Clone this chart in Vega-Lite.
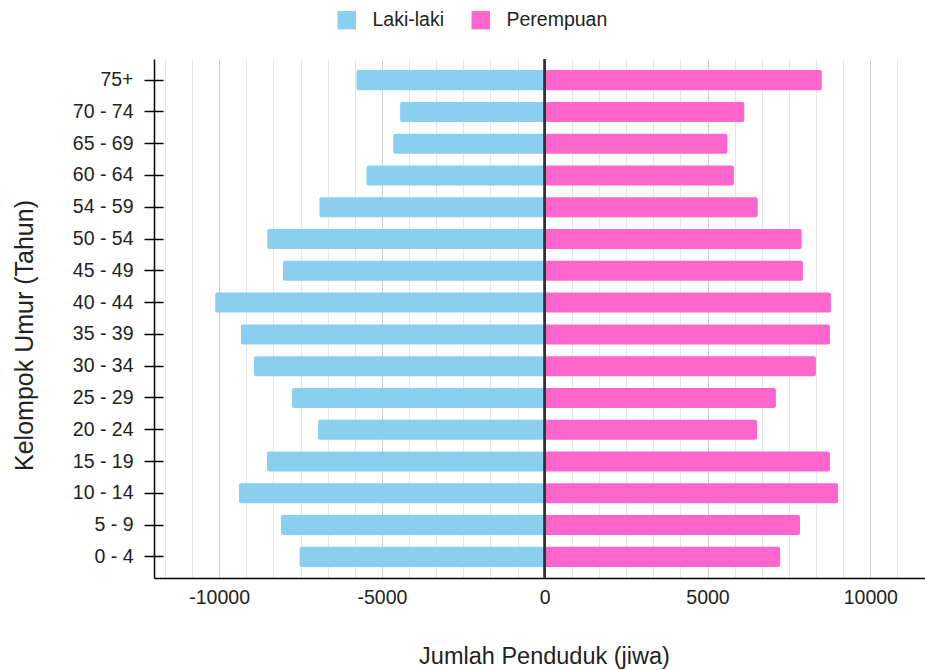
{
  "$schema": "https://vega.github.io/schema/vega-lite/v6.json",
  "width": 771,
  "height": 519,
  "autosize": {"type": "none"},
  "padding": {"left": 154, "top": 59, "right": 0, "bottom": 92},
  "background": "white",
  "config": {
    "view": {"stroke": null},
    "font": "Liberation Sans",
    "axis": {"labelFont": "Liberation Sans", "titleFont": "Liberation Sans", "labelColor": "#222222", "titleColor": "#222222", "titleFontWeight": "normal"},
    "legend": {"labelFont": "Liberation Sans"}
  },
  "data": {
    "values": [
      {"age": "75+", "sex": "Laki-laki", "value": -5780},
      {"age": "75+", "sex": "Perempuan", "value": 8510},
      {"age": "70 - 74", "sex": "Laki-laki", "value": -4440},
      {"age": "70 - 74", "sex": "Perempuan", "value": 6130},
      {"age": "65 - 69", "sex": "Laki-laki", "value": -4650},
      {"age": "65 - 69", "sex": "Perempuan", "value": 5610},
      {"age": "60 - 64", "sex": "Laki-laki", "value": -5470},
      {"age": "60 - 64", "sex": "Perempuan", "value": 5810},
      {"age": "54 - 59", "sex": "Laki-laki", "value": -6920},
      {"age": "54 - 59", "sex": "Perempuan", "value": 6540},
      {"age": "50 - 54", "sex": "Laki-laki", "value": -8520},
      {"age": "50 - 54", "sex": "Perempuan", "value": 7890},
      {"age": "45 - 49", "sex": "Laki-laki", "value": -8040},
      {"age": "45 - 49", "sex": "Perempuan", "value": 7930},
      {"age": "40 - 44", "sex": "Laki-laki", "value": -10120},
      {"age": "40 - 44", "sex": "Perempuan", "value": 8790},
      {"age": "35 - 39", "sex": "Laki-laki", "value": -9330},
      {"age": "35 - 39", "sex": "Perempuan", "value": 8760},
      {"age": "30 - 34", "sex": "Laki-laki", "value": -8930},
      {"age": "30 - 34", "sex": "Perempuan", "value": 8330},
      {"age": "25 - 29", "sex": "Laki-laki", "value": -7760},
      {"age": "25 - 29", "sex": "Perempuan", "value": 7100},
      {"age": "20 - 24", "sex": "Laki-laki", "value": -6960},
      {"age": "20 - 24", "sex": "Perempuan", "value": 6520},
      {"age": "15 - 19", "sex": "Laki-laki", "value": -8530},
      {"age": "15 - 19", "sex": "Perempuan", "value": 8760},
      {"age": "10 - 14", "sex": "Laki-laki", "value": -9390},
      {"age": "10 - 14", "sex": "Perempuan", "value": 9010},
      {"age": "5 - 9", "sex": "Laki-laki", "value": -8100},
      {"age": "5 - 9", "sex": "Perempuan", "value": 7840},
      {"age": "0 - 4", "sex": "Laki-laki", "value": -7530},
      {"age": "0 - 4", "sex": "Perempuan", "value": 7230}
    ]
  },
  "resolve": {"axis": {"y": "independent"}},
  "layer": [
    {
      "mark": {"type": "bar", "cornerRadius": 2},
      "encoding": {
        "x": {
          "field": "value", "type": "quantitative", "stack": null,
          "scale": {"domain": [-12000, 11680], "nice": false, "zero": false},
          "axis": {
            "values": [-11666.667, -10833.333, -10000, -9166.667, -8333.333, -7500, -6666.667, -5833.333, -5000, -4166.667, -3333.333, -2500, -1666.667, -833.333, 0, 833.333, 1666.667, 2500, 3333.333, 4166.667, 5000, 5833.333, 6666.667, 7500, 8333.333, 9166.667, 10000, 10833.333, 11666.667],
            "tickCount": 60,
            "labelExpr": "abs(datum.value % 5000) < 1 ? '' + round(datum.value) : ''",
            "labelFlush": false,
            "labelOverlap": false,
            "grid": true,
            "gridColor": {"condition": {"test": "abs(datum.value % 5000) < 1", "value": "#cccccc"}, "value": "#e6e6e6"},
            "gridOpacity": 1,
            "gridWidth": 1,
            "ticks": false,
            "domain": true,
            "domainColor": "#000000",
            "domainWidth": 1.5,
            "labelFontSize": 19.5,
            "labelPadding": 10,
            "title": "Jumlah Penduduk (jiwa)",
            "titleFontSize": 23.5,
            "titleX": 390,
            "titleY": 85,
            "titleAlign": "center",
            "titleBaseline": "alphabetic"
          }
        },
        "y": {
          "field": "age", "type": "nominal",
          "sort": ["75+", "70 - 74", "65 - 69", "60 - 64", "54 - 59", "50 - 54", "45 - 49", "40 - 44", "35 - 39", "30 - 34", "25 - 29", "20 - 24", "15 - 19", "10 - 14", "5 - 9", "0 - 4"],
          "scale": {"paddingInner": 0.37, "paddingOuter": 0.35},
          "axis": {
            "orient": "left",
            "grid": false,
            "domain": true,
            "domainColor": "#000000",
            "domainWidth": 1.5,
            "ticks": true,
            "tickColor": "#000000",
            "tickWidth": 1.5,
            "tickSize": 10,
            "labelFontSize": 19.5,
            "labelPadding": 11,
            "title": "Kelompok Umur (Tahun)",
            "titleFontSize": 25,
            "titleAngle": -90,
            "titleX": -130,
            "titleY": 276,
            "titleAlign": "center",
            "titleBaseline": "middle"
          }
        },
        "color": {
          "field": "sex", "type": "nominal",
          "scale": {"domain": ["Laki-laki", "Perempuan"], "range": ["#89CFF0", "#FF66CC"]},
          "legend": {
            "orient": "none",
            "direction": "horizontal",
            "legendX": 183,
            "legendY": -49,
            "padding": 0,
            "title": null,
            "symbolType": "square",
            "symbolSize": 340,
            "symbolStrokeWidth": 0,
            "symbolOpacity": 1,
            "labelFontSize": 19.5,
            "labelColor": "#222222",
            "labelOffset": 16,
            "columnPadding": 26
          }
        }
      }
    },
    {
      "mark": {"type": "bar", "opacity": 0},
      "encoding": {
        "y": {
          "field": "age", "type": "nominal",
          "sort": ["75+", "70 - 74", "65 - 69", "60 - 64", "54 - 59", "50 - 54", "45 - 49", "40 - 44", "35 - 39", "30 - 34", "25 - 29", "20 - 24", "15 - 19", "10 - 14", "5 - 9", "0 - 4"],
          "axis": {
            "orient": "left",
            "grid": false,
            "domain": false,
            "labels": false,
            "title": null,
            "ticks": true,
            "tickColor": "#000000",
            "tickWidth": 1.5,
            "tickSize": -9
          }
        }
      }
    },
    {
      "mark": {"type": "rule", "color": "#333333", "strokeWidth": 1.5},
      "encoding": {
        "x": {"datum": 0, "type": "quantitative"}
      }
    }
  ]
}
